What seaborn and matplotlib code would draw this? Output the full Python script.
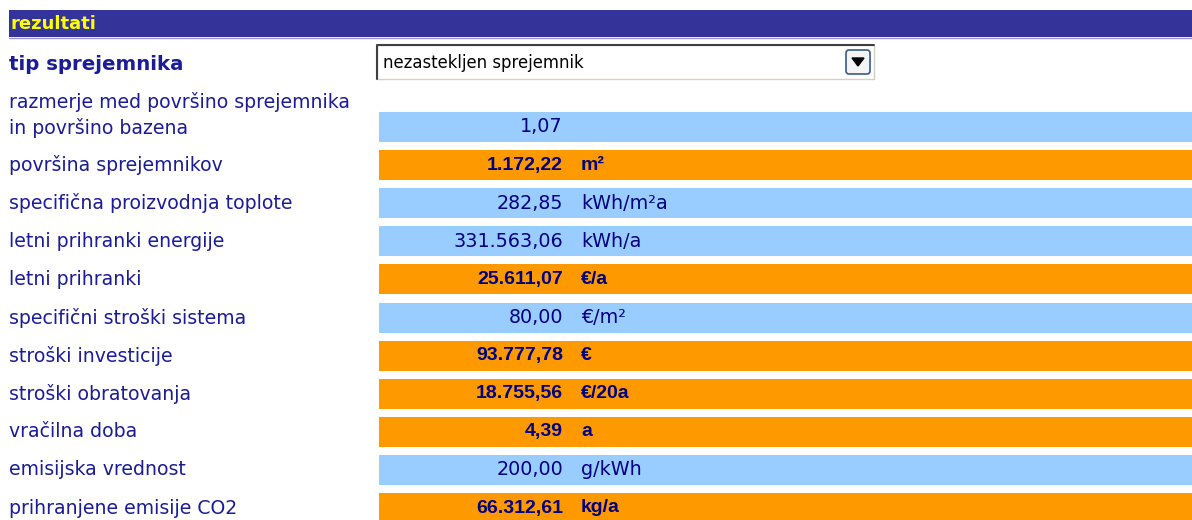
import matplotlib
matplotlib.use("Agg")
import matplotlib.pyplot as plt
import matplotlib.patches as mpatches
import seaborn as sns

# ---------------------------
# Data
# ---------------------------
labels = [
    "razmerje med površino sprejemnika\nin površino bazena",
    "površina sprejemnikov",
    "specifična proizvodnja toplote",
    "letni prihranki energije",
    "letni prihranki",
    "specifični stroški sistema",
    "stroški investicije",
    "stroški obratovanja",
    "vračilna doba",
    "emisijska vrednost",
    "prihranjene emisije CO2",
]
values = ["1,07", "1.172,22", "282,85", "331.563,06", "25.611,07", "80,00",
          "93.777,78", "18.755,56", "4,39", "200,00", "66.312,61"]
units = ["", "m²", "kWh/m²a", "kWh/a", "€/a", "€/m²", "€", "€/20a", "a", "g/kWh", "kg/a"]
# True = result row (orange, bold), False = input/info row (light blue)
highlight = [False, True, False, False, True, False, True, True, True, False, True]

header_text = "rezultati"
type_label = "tip sprejemnika"
type_choice = "nezasteklјen sprejemnik".replace("ј", "j")

BLUE = "#99ccff"
ORANGE = "#ff9900"
NAVY = "#333399"
TEXT = "#000080"
LABEL = "#1c1c94"

sns.set_style("white")
plt.rcParams["font.family"] = ["DejaVu Sans"]

fig = plt.figure(figsize=(11.92, 5.2), dpi=100)
ax = fig.add_axes([0, 0, 1, 1])
ax.set_xlim(0, 1192)
ax.set_ylim(520, 0)
ax.axis("off")

# header bar
ax.add_patch(mpatches.Rectangle((9, 10), 1183, 27, color=NAVY, lw=0))
ax.plot([9, 1192], [37.5, 37.5], color="#9999cc", lw=1)
ax.text(10, 24, header_text, color="#ffff00", fontsize=13, fontweight="bold", va="center")

# selector row
ax.text(9, 64, type_label, color=LABEL, fontsize=14.2, fontweight="bold", va="center")
ax.add_patch(mpatches.Rectangle((377, 45), 497, 34, facecolor="white", edgecolor="#d4d0c8", lw=1))
ax.plot([377, 377, 874], [79, 45, 45], color="#404040", lw=1.5)
ax.text(383, 63, type_choice, color="black", fontsize=11.9, va="center")
ax.add_patch(mpatches.FancyBboxPatch((846, 50), 24, 24, boxstyle="round,pad=0,rounding_size=3",
                                     facecolor="#f4f4f4", edgecolor="#3a5a8a", lw=1.2))
ax.add_patch(mpatches.Polygon([[852, 58], [864, 58], [858, 66]], closed=True, color="black"))

# result rows
row_top = 112
pitch = 38.1
bar_h = 30
ys = [row_top + i * pitch + bar_h / 2 for i in range(len(labels))]
colors = [ORANGE if h else BLUE for h in highlight]
ax.barh(ys, [1192 - 379] * len(ys), left=379, height=bar_h, color=colors, lw=0)

bold_font = dict(family="Liberation Sans", fontsize=14, fontweight="bold")
plain_font = dict(family="DejaVu Sans", fontsize=13.8)

for y, lab, val, unit, h in zip(ys, labels, values, units, highlight):
    font = bold_font if h else plain_font
    if "\n" in lab:
        first, second = lab.split("\n")
        ax.text(9, y - 25, first, color=LABEL, fontsize=13.6, va="center")
        ax.text(9, y + 1, second, color=LABEL, fontsize=13.6, va="center")
    else:
        ax.text(9, y, lab, color=LABEL, fontsize=13.6, va="center")
    ax.text(563, y, val, color=TEXT, ha="right", va="center", **font)
    ax.text(581, y, unit, color=TEXT, ha="left", va="center", **font)

fig.savefig("out.png", dpi=100)
